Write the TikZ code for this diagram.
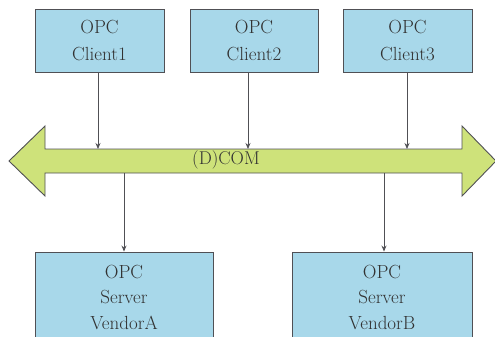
\documentclass[tikz,border=0pt]{standalone}
\usetikzlibrary{arrows.meta}
\definecolor{boxfill}{RGB}{168,216,234}
\definecolor{busfill}{RGB}{206,226,122}
\definecolor{edge}{RGB}{80,80,85}
\definecolor{ink}{RGB}{50,50,50}
\tikzset{
  opcbox/.style={draw=edge, line width=0.9pt, fill=boxfill, text=ink,
    rectangle, inner sep=0pt, align=center},
  clientfont/.style={font=\fontsize{19}{27}\selectfont},
  serverfont/.style={font=\fontsize{19}{25.5}\selectfont},
  link/.style={draw=edge, line width=0.8pt, -{Stealth[length=6pt,width=5pt]}}
}
\begin{document}
\begin{tikzpicture}[x=1pt,y=-1pt]
\useasboundingbox (0,0) rectangle (495,337);
\clip (0,0) rectangle (495,337);
% client boxes
\node[opcbox, clientfont, minimum width=129pt, minimum height=63pt] (c1) at (99.5,40.5) {OPC\\Client1};
\node[opcbox, clientfont, minimum width=128pt, minimum height=63pt] (c2) at (254,40.5) {OPC\\Client2};
\node[opcbox, clientfont, minimum width=129pt, minimum height=63pt] (c3) at (407.5,40.5) {OPC\\Client3};
% the (D)COM bus: double-headed block arrow
\path[fill=busfill, draw=edge, line width=0.9pt]
  (9,161) -- (45,126) -- (45,149) -- (462,149) -- (462,126) -- (496,161)
  -- (462,196) -- (462,173) -- (45,173) -- (45,196) -- cycle;
\node[text=ink, font=\fontsize{18.5}{20}\selectfont] (com) at (226,160) {(D)COM};
% attachment points on the bus
\coordinate (in1) at (98,149);
\coordinate (in2) at (248,149);
\coordinate (in3) at (407,149);
\coordinate (outa) at (124,173);
\coordinate (outb) at (384,173);
% server boxes
\node[opcbox, minimum width=178pt, minimum height=92pt] (sa) at (124,298) {};
\node[opcbox, minimum width=180pt, minimum height=92pt] (sb) at (382,298) {};
\node[text=ink, align=center, serverfont] (ta) at (124,297.5) {OPC\\Server\\VendorA};
\node[text=ink, align=center, serverfont] (tb) at (382,297.5) {OPC\\Server\\VendorB};
% connectors
\draw[link] (c1.south -| in1) -- (in1);
\draw[link] (c2.south -| in2) -- (in2);
\draw[link] (c3.south -| in3) -- (in3);
\draw[link] (outa) -- (sa.north -| outa);
\draw[link] (outb) -- (sb.north -| outb);
\end{tikzpicture}
\end{document}
